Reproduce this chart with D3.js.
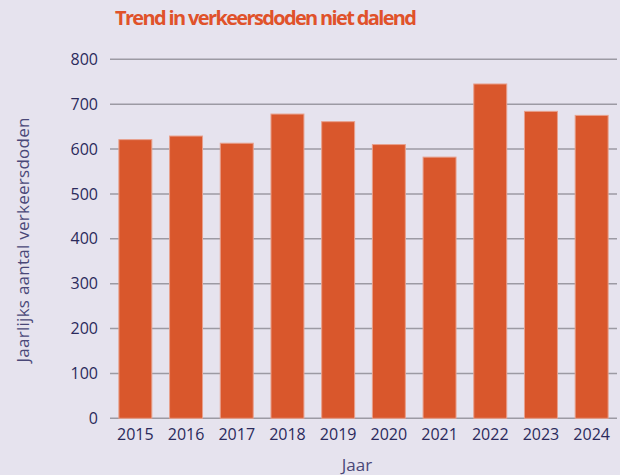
<!DOCTYPE html>
<html>
<head>
<meta charset="utf-8">
<script src="https://cdn.jsdelivr.net/npm/d3@7"></script>
<style>
  body { margin: 0; background: #e6e3ee; }
  svg { display: block; font-family: "Open Sans", sans-serif; }
</style>
</head>
<body>
<svg id="chart" width="620" height="475"></svg>
<script>
var years = ["2015", "2016", "2017", "2018", "2019", "2020", "2021", "2022", "2023", "2024"];
var deaths = [621, 629, 613, 678, 661, 610, 582, 745, 684, 675];
var yTicks = [0, 100, 200, 300, 400, 500, 600, 700, 800];

var width = 620, height = 475;
var plotLeft = 110, plotRight = 617, plotTop = 59.3, plotBottom = 418.3;

var svg = d3.select("#chart");

svg.append("rect")
  .attr("width", width).attr("height", height)
  .attr("fill", "#e6e3ee");

var x = d3.scaleBand()
  .domain(years)
  .range([plotLeft, plotRight])
  .paddingInner(0.35)
  .paddingOuter(0.175);

var y = d3.scaleLinear()
  .domain([0, 800])
  .range([plotBottom, plotTop]);

// gridlines
svg.append("g")
  .selectAll("line")
  .data(yTicks)
  .enter()
  .append("line")
    .attr("x1", plotLeft).attr("x2", plotRight)
    .attr("y1", function(d) { return y(d); })
    .attr("y2", function(d) { return y(d); })
    .attr("stroke", "#9c9aa3")
    .attr("stroke-width", 1.5);

// bars
svg.append("g")
  .selectAll("rect")
  .data(deaths)
  .enter()
  .append("rect")
    .attr("x", function(d, i) { return x(years[i]); })
    .attr("y", function(d) { return y(d); })
    .attr("width", x.bandwidth())
    .attr("height", function(d) { return y(0) - y(d); })
    .attr("fill", "#d9572c")
    .attr("stroke", "#e8a08c")
    .attr("stroke-width", 1);

// y axis labels
var yAxis = svg.append("g")
  .attr("transform", "translate(" + (plotLeft - 12) + ",0)")
  .call(d3.axisLeft(y).tickValues(yTicks).tickSize(0).tickPadding(0));
yAxis.select(".domain").remove();

// x axis labels
var xAxis = svg.append("g")
  .attr("transform", "translate(0," + plotBottom + ")")
  .call(d3.axisBottom(x).tickSize(0).tickPadding(10));
xAxis.select(".domain").remove();

svg.selectAll(".tick text")
  .attr("fill", "#2b2a5c")
  .attr("font-family", "'Open Sans', sans-serif")
  .attr("font-size", "16px");

// titles
svg.append("text")
  .attr("x", 266).attr("y", 25)
  .attr("text-anchor", "middle")
  .attr("fill", "#e0522a")
  .attr("font-size", "20px")
  .attr("font-weight", "bold")
  .attr("textLength", 302)
  .text("Trend in verkeersdoden niet dalend");

svg.append("text")
  .attr("x", 357).attr("y", 471)
  .attr("text-anchor", "middle")
  .attr("fill", "#4a4878")
  .attr("font-size", "17px")
  .text("Jaar");

svg.append("text")
  .attr("transform", "translate(29,240) rotate(-90)")
  .attr("text-anchor", "middle")
  .attr("fill", "#4a4878")
  .attr("font-size", "17px")
  .attr("textLength", 245)
  .text("Jaarlijks aantal verkeersdoden");
</script>
</body>
</html>
